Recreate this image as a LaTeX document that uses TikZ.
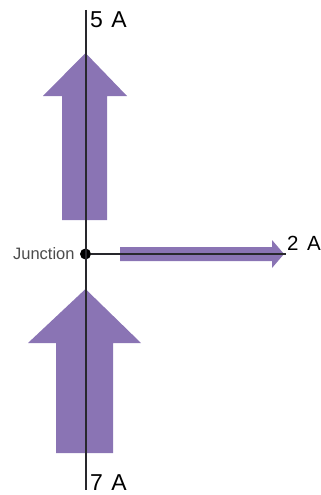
\documentclass[tikz,border=0pt]{standalone}
\usepackage{fontspec}
\setmainfont{Liberation Sans}
\usetikzlibrary{calc}

\definecolor{flow}{RGB}{138,116,180}
\definecolor{wire}{RGB}{40,40,45}
\newcommand{\ampbig}{\fontsize{23}{23}\selectfont\spaceskip=0.36em\relax}
\newcommand{\ampsmall}{\fontsize{20.5}{20.5}\selectfont\spaceskip=0.42em\relax}

\begin{document}
\begin{tikzpicture}[x=1pt,y=-1pt,
    wire/.style={draw=wire,line width=2pt},
    amp/.style={font=\ampbig,inner sep=0pt,anchor=base west},
    flowarrow/.style={fill=flow}]
    \useasboundingbox (0,0) rectangle (321,495);
    \coordinate (T) at (85.5,10);
    \coordinate (B) at (85.5,490);
    \coordinate (R) at (286,254);
    \node[circle,fill=black,inner sep=0pt,minimum size=11pt] (J) at (85.5,254) {};
    % current arrows
    \fill[flowarrow] (62,220) -- (62,96) -- (43,96) -- (85.5,53) -- (127,96)
        -- (107,96) -- (107,220) -- cycle;
    \fill[flowarrow] (56,453) -- (56,343) -- (28,343) -- (85.5,289) -- (141,343)
        -- (113,343) -- (113,453) -- cycle;
    \fill[flowarrow] (120,247) -- (272,247) -- (272,240) -- (284,254) -- (272,268)
        -- (272,261) -- (120,261) -- cycle;
    \draw[wire] (T) -- (B);
    \draw[wire] (J) -- (R);
    \node[left,font=\fontsize{16.5}{16.5}\selectfont,text=black!70,inner sep=0pt] at ($(J.west)+(-5,0)$) {Junction};
    \node[amp] at (90,28) {5 A};
    \node[amp] at (90,490) {7 A};
    \node[amp,font=\ampsmall] at (287,250) {2 A};
\end{tikzpicture}
\end{document}
